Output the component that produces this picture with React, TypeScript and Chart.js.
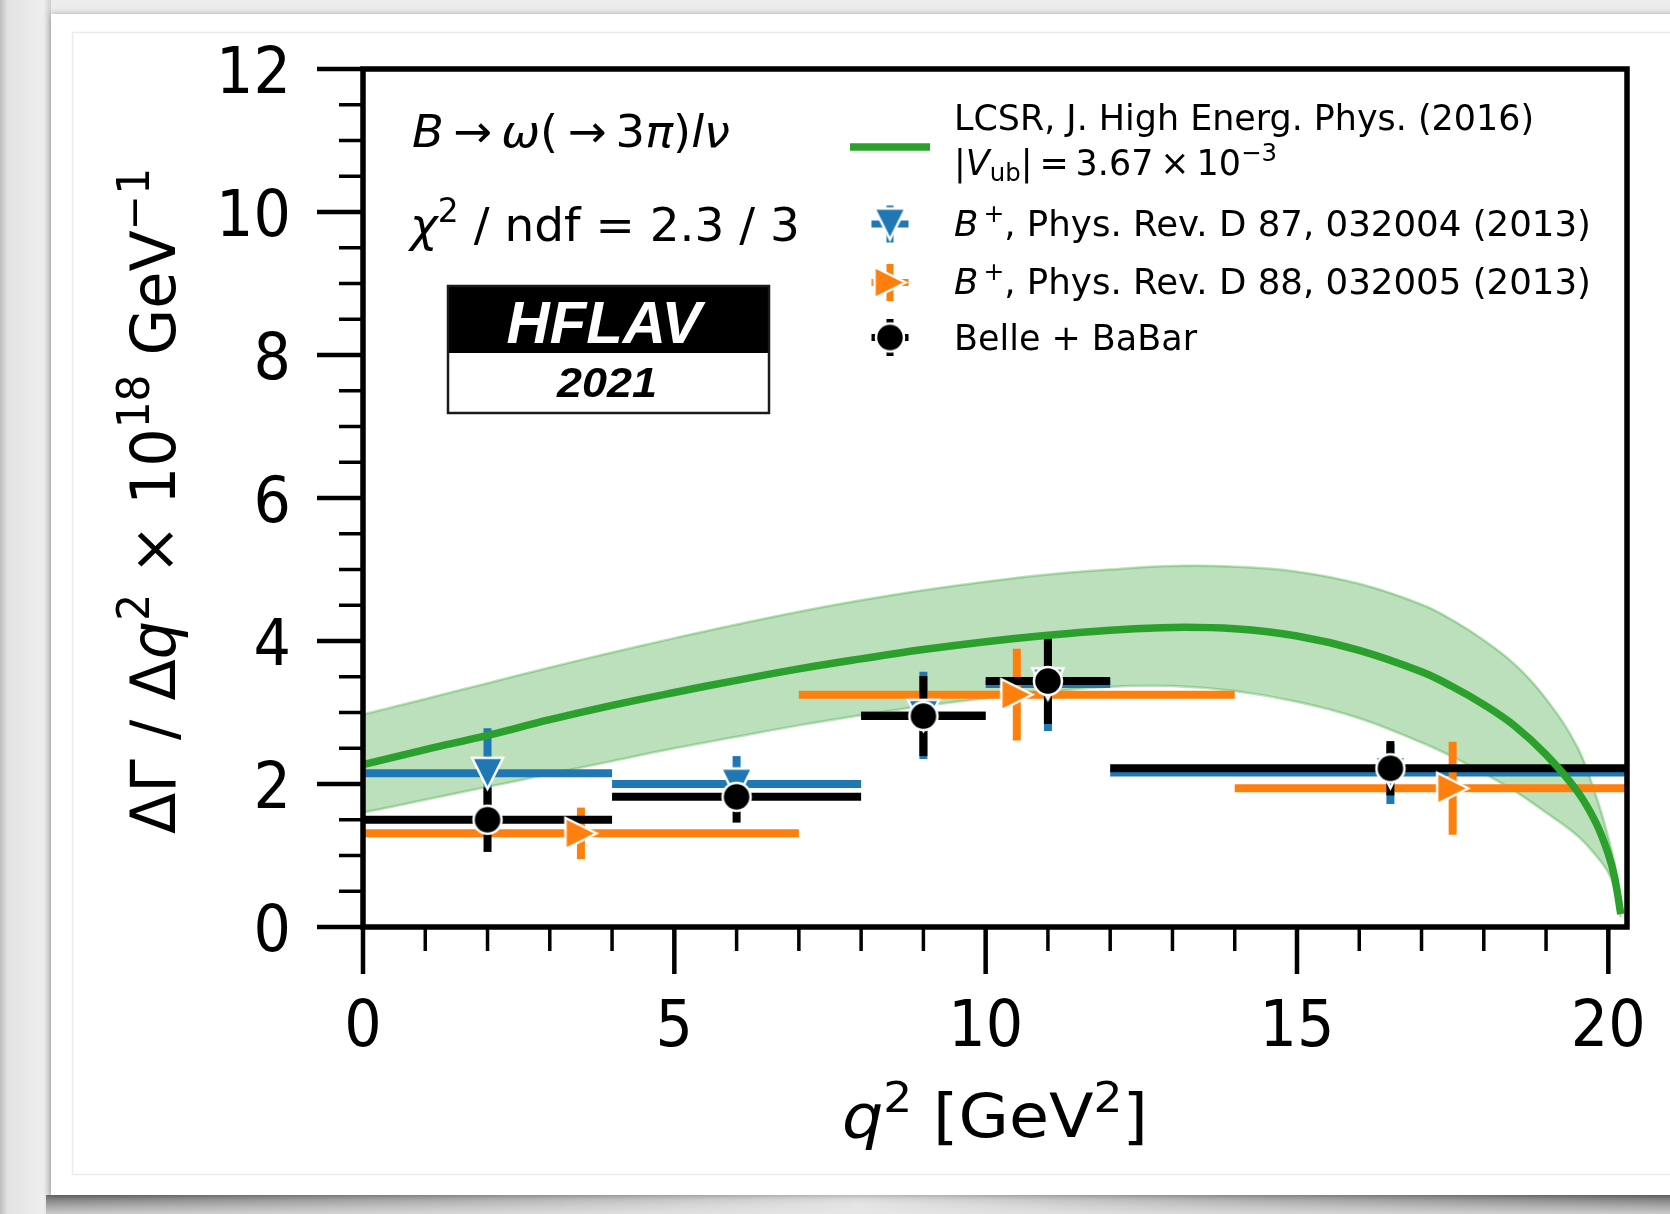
import React, { useEffect, useRef } from 'react';
import { Chart, registerables } from 'chart.js';

Chart.register(...registerables);

const W = 1670;
const H = 1214;

// LCSR prediction (central value and 1 sigma band)
const Q2_GRID = [0, 1, 2, 3, 4, 5, 6, 7, 8, 9, 10, 11, 12, 13, 14, 15, 16, 17, 17.5, 18, 18.5, 19, 19.5, 19.8, 20.0, 20.1, 20.2];
const LCSR_CENTRAL = [2.27, 2.48, 2.68, 2.90, 3.10, 3.28, 3.45, 3.61, 3.75, 3.88, 3.99, 4.08, 4.15, 4.19, 4.17, 4.07, 3.87, 3.57, 3.36, 3.11, 2.81, 2.41, 1.90, 1.46, 1.02, 0.70, 0.18];
const LCSR_LOWER = [1.60, 1.78, 1.96, 2.14, 2.32, 2.50, 2.66, 2.82, 2.96, 3.09, 3.20, 3.29, 3.36, 3.37, 3.30, 3.15, 2.92, 2.58, 2.38, 2.15, 1.90, 1.60, 1.28, 1.00, 0.76, 0.52, 0.14];
const LCSR_UPPER = [2.97, 3.19, 3.41, 3.63, 3.84, 4.04, 4.23, 4.41, 4.57, 4.71, 4.83, 4.93, 5.00, 5.05, 5.04, 4.97, 4.80, 4.51, 4.29, 4.01, 3.67, 3.19, 2.52, 1.84, 1.25, 0.88, 0.24];

// Belle + BaBar average and BaBar B+ (PRD 87) share these bins
const BB_BIN_LO = [0, 4, 8, 10, 12];
const BB_BIN_HI = [4, 8, 10, 12, 21];
const BB_X = [2, 6, 9, 11, 16.5];
const BLUE_Y = [2.15, 2.0, 2.96, 3.40, 2.16];
const BLUE_ERR_UP = [0.63, 0.39, 0.61, 0.62, 0.40];
const BLUE_ERR_DN = [0.63, 0.30, 0.61, 0.66, 0.44];
const BLACK_Y = [1.50, 1.82, 2.95, 3.44, 2.22];
const BLACK_ERR = [0.45, 0.36, 0.56, 0.60, 0.38];

// BaBar B+ (PRD 88)
const OR_BIN_LO = [0, 7, 14];
const OR_BIN_HI = [7, 14, 21];
const OR_X = [3.5, 10.5, 17.5];
const OR_Y = [1.31, 3.25, 1.94];
const OR_ERR = [0.36, 0.64, 0.65];

const X_MIN = 0;
const X_MAX = 20.3;
const Y_MIN = 0;
const Y_MAX = 12;
const X_MAJOR_TICKS = [0, 5, 10, 15, 20];
const X_TICK_LABELS = ['0', '5', '10', '15', '20'];
const Y_MAJOR_TICKS = [0, 2, 4, 6, 8, 10, 12];
const Y_TICK_LABELS = ['0', '2', '4', '6', '8', '10', '12'];
const X_MINOR_STEP = 1;
const Y_MINOR_STEP = 0.5;

const C_BLUE = '#1f77b4';
const C_ORANGE = '#ff7f0e';
const C_BLACK = '#000000';
const C_GREEN = '#2ca02c';
const C_BAND = 'rgba(44,160,44,0.32)';

const FAM = "'DejaVu Sans'";

type Run = { t: string; it?: boolean; bd?: boolean; sup?: boolean; sub?: boolean };

function drawRuns(
  ctx: CanvasRenderingContext2D,
  runs: Run[],
  x: number,
  y: number,
  size: number,
  opt: { align?: 'left' | 'center' | 'right'; width?: number; color?: string; fam?: string; sx?: number } = {}
) {
  const fam = opt.fam || FAM;
  const fontFor = (r: Run) =>
    `${r.it ? 'italic ' : ''}${r.bd ? 'bold ' : ''}${r.sup || r.sub ? size * 0.7 : size}px ${fam}`;
  let total = 0;
  const ws = runs.map((r) => {
    ctx.font = fontFor(r);
    const w = ctx.measureText(r.t).width;
    total += w;
    return w;
  });
  const sx = opt.width ? opt.width / total : opt.sx || 1;
  const tw = total * sx;
  const align = opt.align || 'left';
  const x0 = align === 'center' ? x - tw / 2 : align === 'right' ? x - tw : x;
  ctx.save();
  ctx.translate(x0, y);
  ctx.scale(sx, 1);
  ctx.fillStyle = opt.color || '#000';
  ctx.textAlign = 'left';
  ctx.textBaseline = 'alphabetic';
  let cx = 0;
  runs.forEach((r, i) => {
    ctx.font = fontFor(r);
    const dy = r.sup ? -size * 0.4 : r.sub ? size * 0.17 : 0;
    ctx.fillText(r.t, cx, dy);
    cx += ws[i];
  });
  ctx.restore();
}

function makeTriangle(color: string, dir: 'down' | 'right', half = 15.5, edge = 2.5) {
  const s = Math.ceil(2 * half + 14);
  const c = document.createElement('canvas');
  c.width = s;
  c.height = s;
  const g = c.getContext('2d')!;
  const m = s / 2;
  g.beginPath();
  if (dir === 'down') {
    g.moveTo(m - half, m - half);
    g.lineTo(m + half, m - half);
    g.lineTo(m, m + half);
  } else {
    g.moveTo(m - half, m - half);
    g.lineTo(m + half, m);
    g.lineTo(m - half, m + half);
  }
  g.closePath();
  g.fillStyle = color;
  g.fill();
  g.lineJoin = 'miter';
  g.lineWidth = edge;
  g.strokeStyle = '#ffffff';
  g.stroke();
  return c;
}

function makeCircle(color: string, r = 14, edge = 2.5) {
  const s = Math.ceil(2 * r + 10);
  const c = document.createElement('canvas');
  c.width = s;
  c.height = s;
  const g = c.getContext('2d')!;
  g.beginPath();
  g.arc(s / 2, s / 2, r, 0, Math.PI * 2);
  g.fillStyle = color;
  g.fill();
  g.lineWidth = edge;
  g.strokeStyle = '#ffffff';
  g.stroke();
  return c;
}

function drawBackground(ctx: CanvasRenderingContext2D) {
  ctx.save();
  ctx.fillStyle = '#ededed';
  ctx.fillRect(0, 0, W, H);
  let g = ctx.createLinearGradient(0, 0, 51, 0);
  g.addColorStop(0, '#bdbdbd');
  g.addColorStop(0.15, '#e3e3e3');
  g.addColorStop(0.85, '#eeeeee');
  g.addColorStop(1, '#cfcfcf');
  ctx.fillStyle = g;
  ctx.fillRect(0, 0, 51, H);
  g = ctx.createLinearGradient(46, 0, W, 0);
  g.addColorStop(0, '#6a6a6a');
  g.addColorStop(0.25, '#9c9c9c');
  g.addColorStop(0.5, '#dadada');
  g.addColorStop(0.75, '#9c9c9c');
  g.addColorStop(1, '#6a6a6a');
  ctx.fillStyle = g;
  ctx.fillRect(46, 1195, W - 46, H - 1195);
  g = ctx.createLinearGradient(0, 1195, 0, H);
  g.addColorStop(0, 'rgba(255,255,255,0)');
  g.addColorStop(1, 'rgba(235,235,235,0.75)');
  ctx.fillStyle = g;
  ctx.fillRect(46, 1195, W - 46, H - 1195);
  ctx.save();
  ctx.shadowColor = 'rgba(0,0,0,0.3)';
  ctx.shadowBlur = 6;
  ctx.fillStyle = '#ffffff';
  ctx.fillRect(51, 14, W, 1181);
  ctx.restore();
  ctx.strokeStyle = '#ebebeb';
  ctx.lineWidth = 1.5;
  ctx.strokeRect(72.5, 32.5, W, 1142);
  ctx.restore();
}

export default function App() {
  const ref = useRef<HTMLCanvasElement | null>(null);

  useEffect(() => {
    const canvas = ref.current;
    if (!canvas) return;
    const blueTri = makeTriangle(C_BLUE, 'down');
    const orangeTri = makeTriangle(C_ORANGE, 'right');
    const blackDot = makeCircle(C_BLACK);

    const bgPlugin = {
      id: 'bgCard',
      beforeDraw(chart: any) {
        drawBackground(chart.ctx);
      },
    };

    const errPlugin = {
      id: 'errBars',
      afterDatasetDraw(chart: any, args: any) {
        if (args.index !== 1) return;
        const ctx: CanvasRenderingContext2D = chart.ctx;
        const xs = chart.scales.x;
        const ys = chart.scales.y;
        const ca = chart.chartArea;
        ctx.save();
        ctx.beginPath();
        ctx.rect(ca.left, ca.top, ca.right - ca.left, ca.bottom - ca.top);
        ctx.clip();
        ctx.lineCap = 'butt';
        ctx.lineWidth = 8;
        const bar = (color: string, lo: number, hi: number, x: number, y: number, up: number, dn: number) => {
          ctx.strokeStyle = color;
          ctx.beginPath();
          ctx.moveTo(xs.getPixelForValue(lo), ys.getPixelForValue(y));
          ctx.lineTo(xs.getPixelForValue(hi), ys.getPixelForValue(y));
          ctx.stroke();
          ctx.beginPath();
          ctx.moveTo(xs.getPixelForValue(x), ys.getPixelForValue(y + up));
          ctx.lineTo(xs.getPixelForValue(x), ys.getPixelForValue(y - dn));
          ctx.stroke();
        };
        BB_X.forEach((x, i) => bar(C_BLUE, BB_BIN_LO[i], BB_BIN_HI[i], x, BLUE_Y[i], BLUE_ERR_UP[i], BLUE_ERR_DN[i]));
        OR_X.forEach((x, i) => bar(C_ORANGE, OR_BIN_LO[i], OR_BIN_HI[i], x, OR_Y[i], OR_ERR[i], OR_ERR[i]));
        BB_X.forEach((x, i) => bar(C_BLACK, BB_BIN_LO[i], BB_BIN_HI[i], x, BLACK_Y[i], BLACK_ERR[i], BLACK_ERR[i]));
        ctx.restore();
      },
    };

    const framePlugin = {
      id: 'frameTicks',
      afterDatasetsDraw(chart: any) {
        const ctx: CanvasRenderingContext2D = chart.ctx;
        const xs = chart.scales.x;
        const ys = chart.scales.y;
        const ca = chart.chartArea;
        ctx.save();
        ctx.strokeStyle = '#000';
        ctx.lineCap = 'butt';
        ctx.lineWidth = 3.5;
        const nx = Math.floor((X_MAX - X_MIN) / X_MINOR_STEP + 1e-9);
        for (let i = 0; i <= nx; i++) {
          const v = X_MIN + i * X_MINOR_STEP;
          if (X_MAJOR_TICKS.includes(v)) continue;
          const px = xs.getPixelForValue(v);
          ctx.beginPath();
          ctx.moveTo(px, ca.bottom);
          ctx.lineTo(px, ca.bottom + 24);
          ctx.stroke();
        }
        const ny = Math.round((Y_MAX - Y_MIN) / Y_MINOR_STEP);
        for (let i = 0; i <= ny; i++) {
          const v = Y_MIN + i * Y_MINOR_STEP;
          if (Y_MAJOR_TICKS.includes(v)) continue;
          const py = ys.getPixelForValue(v);
          ctx.beginPath();
          ctx.moveTo(ca.left, py);
          ctx.lineTo(ca.left - 24, py);
          ctx.stroke();
        }
        ctx.lineWidth = 4.5;
        X_MAJOR_TICKS.forEach((v) => {
          const px = xs.getPixelForValue(v);
          ctx.beginPath();
          ctx.moveTo(px, ca.bottom);
          ctx.lineTo(px, ca.bottom + 47);
          ctx.stroke();
        });
        Y_MAJOR_TICKS.forEach((v) => {
          const py = ys.getPixelForValue(v);
          ctx.beginPath();
          ctx.moveTo(ca.left, py);
          ctx.lineTo(ca.left - 46, py);
          ctx.stroke();
        });
        ctx.lineWidth = 5.5;
        ctx.lineJoin = 'miter';
        ctx.strokeRect(ca.left, ca.top, ca.right - ca.left, ca.bottom - ca.top);
        ctx.restore();
      },
    };

    const textPlugin = {
      id: 'texts',
      afterDraw(chart: any) {
        const ctx: CanvasRenderingContext2D = chart.ctx;
        const xs = chart.scales.x;
        const ys = chart.scales.y;
        ctx.save();
        X_MAJOR_TICKS.forEach((v, i) => {
          drawRuns(ctx, [{ t: X_TICK_LABELS[i] }], xs.getPixelForValue(v), 1046, 64, { align: 'center', sx: 0.92 });
        });
        Y_MAJOR_TICKS.forEach((v, i) => {
          drawRuns(ctx, [{ t: Y_TICK_LABELS[i] }], 291, ys.getPixelForValue(v) + 23.5, 64, { align: 'right', sx: 0.92 });
        });
        drawRuns(
          ctx,
          [{ t: 'q', it: true }, { t: '2', sup: true }, { t: ' [GeV' }, { t: '2', sup: true }, { t: ']' }],
          995,
          1136.5,
          61,
          { align: 'center', width: 306 }
        );
        ctx.save();
        ctx.translate(174.5, 501);
        ctx.rotate(-Math.PI / 2);
        drawRuns(
          ctx,
          [
            { t: 'ΔΓ / Δ' },
            { t: 'q', it: true },
            { t: '2', sup: true },
            { t: ' × 10' },
            { t: '18', sup: true },
            { t: ' GeV' },
            { t: '−1', sup: true },
          ],
          0,
          0,
          63,
          { align: 'center', width: 666 }
        );
        ctx.restore();
        drawRuns(
          ctx,
          [
            { t: 'B', it: true },
            { t: '\u2009→\u2009' },
            { t: 'ω', it: true },
            { t: '(\u2009→\u20093' },
            { t: 'π', it: true },
            { t: ')' },
            { t: 'lν', it: true },
          ],
          412,
          147,
          45,
          { width: 318 }
        );
        drawRuns(ctx, [{ t: 'χ', it: true }, { t: '2', sup: true }, { t: ' / ndf = 2.3 / 3' }], 410, 241, 47, {
          width: 390,
        });
        // HFLAV logo
        ctx.fillStyle = '#000';
        ctx.fillRect(448, 286, 321, 67);
        ctx.fillStyle = '#fff';
        ctx.fillRect(448, 353, 321, 60);
        ctx.strokeStyle = '#1a1a1a';
        ctx.lineWidth = 2.5;
        ctx.strokeRect(448, 286, 321, 127);
        drawRuns(ctx, [{ t: 'HFLAV', it: true, bd: true }], 604, 343, 59, {
          align: 'center',
          width: 195,
          color: '#ffffff',
          fam: "'Liberation Sans'",
        });
        drawRuns(ctx, [{ t: '2021', it: true, bd: true }], 607, 397, 43, {
          align: 'center',
          width: 100,
          color: '#000000',
          fam: "'Liberation Sans'",
        });
        // legend
        ctx.strokeStyle = C_GREEN;
        ctx.lineWidth = 7.5;
        ctx.lineCap = 'butt';
        ctx.beginPath();
        ctx.moveTo(850, 147);
        ctx.lineTo(930, 147);
        ctx.stroke();
        const handle = (color: string, img: HTMLCanvasElement, cy: number) => {
          ctx.strokeStyle = color;
          ctx.lineWidth = 7;
          ctx.beginPath();
          ctx.moveTo(890 - 18.5, cy);
          ctx.lineTo(890 + 18.5, cy);
          ctx.moveTo(890, cy - 18.5);
          ctx.lineTo(890, cy + 18.5);
          ctx.stroke();
          ctx.drawImage(img, 890 - img.width / 2, cy - img.height / 2);
        };
        handle(C_BLUE, blueTri, 224);
        handle(C_ORANGE, orangeTri, 282.5);
        handle(C_BLACK, blackDot, 337.5);
        drawRuns(ctx, [{ t: 'LCSR, J. High Energ. Phys. (2016)' }], 954, 129.5, 35, { width: 580 });
        drawRuns(
          ctx,
          [
            { t: '|' },
            { t: 'V', it: true },
            { t: 'ub', sub: true },
            { t: '|\u2009=\u20093.67\u2009×\u200910' },
            { t: '−3', sup: true },
          ],
          954,
          175,
          36,
          { width: 323 }
        );
        drawRuns(
          ctx,
          [{ t: 'B', it: true }, { t: '\u2009+', sup: true }, { t: ', Phys. Rev. D 87, 032004 (2013)' }],
          954,
          236,
          35,
          { width: 637 }
        );
        drawRuns(
          ctx,
          [{ t: 'B', it: true }, { t: '\u2009+', sup: true }, { t: ', Phys. Rev. D 88, 032005 (2013)' }],
          954,
          293.5,
          35,
          { width: 637 }
        );
        drawRuns(ctx, [{ t: 'Belle + BaBar' }], 954, 350, 35, { width: 243 });
        ctx.restore();
      },
    };

    const pts = (xsArr: number[], ysArr: number[]) => xsArr.map((x, i) => ({ x, y: ysArr[i] }));

    const chart = new Chart(canvas, {
      type: 'line',
      data: {
        datasets: [
          {
            label: 'band upper',
            data: pts(Q2_GRID, LCSR_UPPER),
            borderColor: C_BAND,
            backgroundColor: C_BAND,
            borderWidth: 2.5,
            fill: '+1',
            pointRadius: 0,
            tension: 0.4,
            order: 10,
          },
          {
            label: 'band lower',
            data: pts(Q2_GRID, LCSR_LOWER),
            borderColor: C_BAND,
            borderWidth: 2.5,
            fill: false,
            pointRadius: 0,
            tension: 0.4,
            order: 9,
          },
          {
            label: 'LCSR',
            data: pts(Q2_GRID, LCSR_CENTRAL),
            borderColor: C_GREEN,
            borderWidth: 7.5,
            fill: false,
            pointRadius: 0,
            tension: 0.4,
            order: 5,
          },
          {
            label: 'B+, PRD 87',
            data: pts(BB_X, BLUE_Y),
            showLine: false,
            pointStyle: blueTri as any,
            pointRadius: 16,
            order: 3,
          },
          {
            label: 'B+, PRD 88',
            data: pts(OR_X, OR_Y),
            showLine: false,
            pointStyle: orangeTri as any,
            pointRadius: 16,
            order: 2,
          },
          {
            label: 'Belle + BaBar',
            data: pts(BB_X, BLACK_Y),
            showLine: false,
            pointStyle: blackDot as any,
            pointRadius: 16,
            order: 1,
          },
        ] as any,
      },
      options: {
        responsive: false,
        maintainAspectRatio: false,
        animation: false,
        devicePixelRatio: 1,
        events: [],
        layout: { padding: { left: 363, top: 69, right: 43, bottom: 287 } },
        scales: {
          x: { type: 'linear', min: X_MIN, max: X_MAX, display: false },
          y: { type: 'linear', min: Y_MIN, max: Y_MAX, display: false },
        },
        plugins: {
          legend: { display: false },
          tooltip: { enabled: false },
        },
      } as any,
      plugins: [bgPlugin, errPlugin, framePlugin, textPlugin],
    });

    return () => {
      chart.destroy();
    };
  }, []);

  return (
    <div style={{ position: 'fixed', left: 0, top: 0, width: W, height: H, overflow: 'hidden' }}>
      <canvas ref={ref} width={W} height={H} style={{ display: 'block', width: W, height: H }} />
    </div>
  );
}
